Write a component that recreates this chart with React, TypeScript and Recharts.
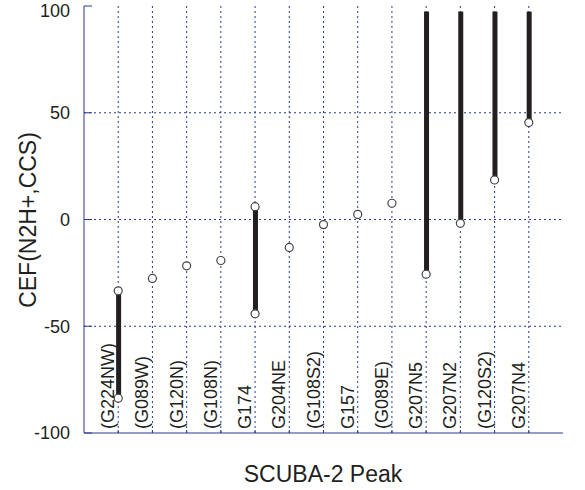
import React from 'react';
import {
  ComposedChart,
  Bar,
  Scatter,
  XAxis,
  YAxis,
  CartesianGrid,
  Label,
} from 'recharts';

// SCUBA-2 peaks, left to right
const peaks = [
  '(G224NW)', '(G089W)', '(G120N)', '(G108N)', 'G174', 'G204NE', '(G108S2)',
  'G157', '(G089E)', 'G207N5', 'G207N2', '(G120S2)', 'G207N4',
];

// CEF values (circles)
const cefMain = [-33.4, -27.6, -21.7, -19.2, 6.0, -13.1, -2.4, 2.4, 7.6, -25.6, -1.8, 18.5, 45.4];
const cefSecond = [-83.7, null, null, null, -44.2, null, null, null, null, null, null, null, null];

// thick range bars
const barLow = [-83.7, null, null, null, -44.2, null, null, null, null, -25.6, -1.8, 18.5, 45.4];
const barHigh = [-33.4, null, null, null, 6.0, null, null, null, null, 97.4, 97.4, 97.4, 97.4];

const yTicks = [-100, -50, 0, 50, 100];
const xTicks = peaks.map((_, i) => i + 1);

const AXIS = '#2b3990';
const INK = '#231f20';
const FONT = 'Liberation Sans, Arial, sans-serif';

const rows = peaks.map((name, i) => ({
  x: i + 1,
  name,
  range: barLow[i] !== null && barHigh[i] !== null ? [barLow[i], barHigh[i]] : null,
}));

const circles = [
  ...cefMain.map((v, i) => ({ x: i + 1, y: v })),
  ...cefSecond
    .map((v, i) => (v === null ? null : { x: i + 1, y: v }))
    .filter((p) => p !== null),
];

const PeakTick = ({ x, payload }: any) => {
  const label = peaks[payload.value - 1];
  if (!label) return null;
  const tx = x - 4;
  const ty = 429;
  return (
    <text
      x={tx}
      y={ty}
      transform={`rotate(-90 ${tx} ${ty})`}
      textAnchor="start"
      fontSize={18}
      fontFamily={FONT}
      fill={INK}
    >
      {label}
    </text>
  );
};

const OpenCircle = ({ cx, cy }: any) => (
  <circle cx={cx} cy={cy} r={4} fill="#fff" stroke="#444" strokeWidth={1.2} />
);

export default function App() {
  return (
    <div style={{ position: 'absolute', left: 0, top: 0, background: '#fff' }}>
      <ComposedChart
        width={585}
        height={490}
        data={rows}
        margin={{ top: 6, right: 22, bottom: 0, left: 0 }}
      >
        <CartesianGrid
          stroke={AXIS}
          strokeDasharray="2 3"
          horizontalValues={[-50, 0, 50]}
          verticalValues={xTicks}
        />

        <XAxis
          dataKey="x"
          type="number"
          domain={[0, 14]}
          ticks={xTicks}
          height={57}
          stroke={AXIS}
          tickSize={-3}
          tick={<PeakTick />}
          interval={0}
          allowDataOverflow
        >
          <Label
            content={() => (
              <text
                x={323}
                y={474}
                textAnchor="middle"
                dominantBaseline="central"
                fontSize={23}
                fontFamily={FONT}
                fill={INK}
              >
                SCUBA-2 Peak
              </text>
            )}
          />
        </XAxis>
        <XAxis
          xAxisId="top"
          orientation="top"
          type="number"
          domain={[0, 14]}
          ticks={xTicks}
          height={0}
          stroke={AXIS}
          tick={false}
          tickLine={false}
        />

        <YAxis
          type="number"
          domain={[-100, 100]}
          ticks={yTicks}
          width={84}
          stroke={AXIS}
          tickSize={-8}
          tickMargin={22}
          tick={{ fontSize: 18, fontFamily: FONT, fill: INK }}
          allowDataOverflow
        >
          <Label
            content={() => (
              <text
                x={28}
                y={220}
                transform="rotate(-90 28 220)"
                textAnchor="middle"
                dominantBaseline="central"
                fontSize={23}
                fontFamily={FONT}
                fill={INK}
              >
                CEF(N2H+,CCS)
              </text>
            )}
          />
        </YAxis>
        <YAxis
          yAxisId="right"
          orientation="right"
          type="number"
          domain={[-100, 100]}
          ticks={yTicks}
          width={0}
          stroke={AXIS}
          tickSize={-8}
          tick={false}
        />

        <Bar dataKey="range" barSize={5} fill={INK} isAnimationActive={false} />
        <Scatter
          data={circles}
          dataKey="y"
          shape={<OpenCircle />}
          isAnimationActive={false}
        />
      </ComposedChart>
    </div>
  );
}
